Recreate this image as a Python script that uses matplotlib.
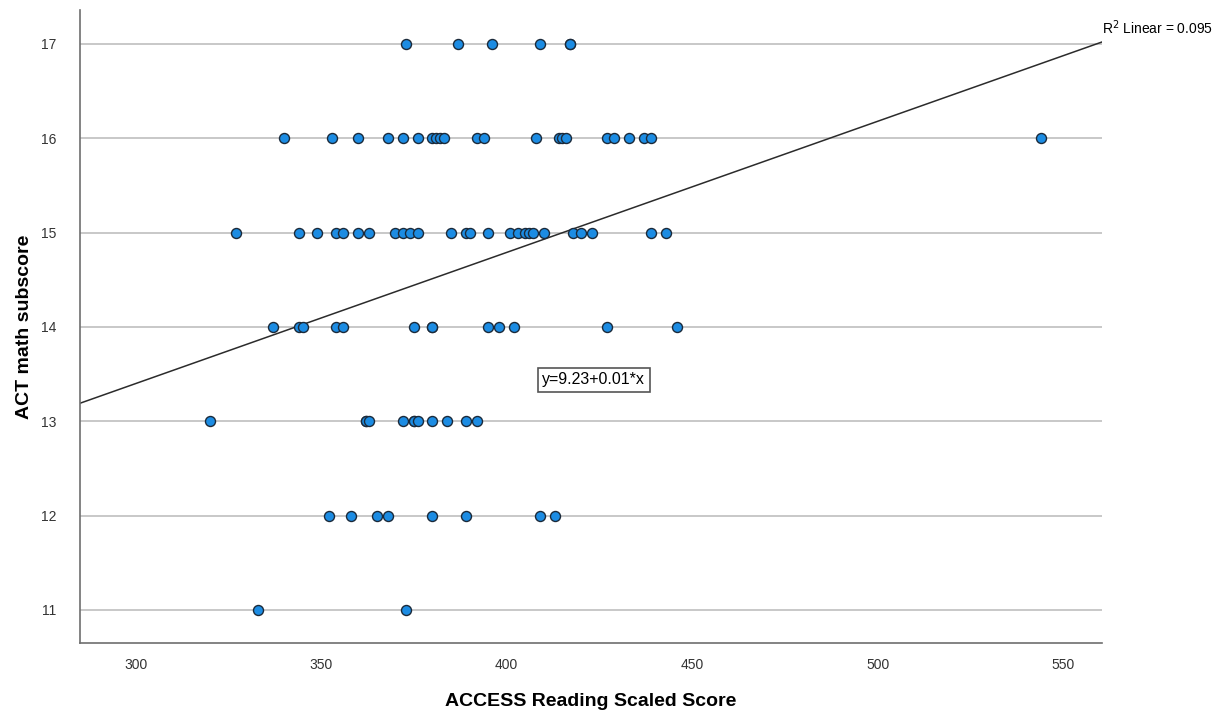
import matplotlib
matplotlib.use("Agg")
import matplotlib.pyplot as plt
import numpy as np

# Valeurs, une liste par score ACT
act_17 = [373, 387, 396, 409, 417, 417]
act_16 = [340, 353, 360, 368, 372, 376, 380, 381, 382, 383, 392, 394, 408,
          414, 415, 416, 427, 429, 433, 437, 439, 544]
act_15 = [327, 344, 349, 354, 356, 360, 363, 370, 372, 374, 376, 385, 389,
          390, 395, 401, 403, 405, 406, 407, 410, 418, 420, 423, 439, 443]
act_14 = [337, 344, 345, 354, 356, 375, 380, 380, 395, 398, 402, 427, 446]
act_13 = [320, 362, 362, 363, 372, 375, 375, 376, 380, 384, 389, 392]
act_12 = [352, 358, 365, 368, 380, 389, 409, 413]
act_11 = [333, 373]

fit_intercept = 9.23
fit_slope = 0.0139
r2_text = "0.095"

x_ticks = [300, 350, 400, 450, 500, 550]
y_ticks = [11, 12, 13, 14, 15, 16, 17]

rows = {17: act_17, 16: act_16, 15: act_15, 14: act_14,
        13: act_13, 12: act_12, 11: act_11}
x = np.concatenate([np.array(v, float) for v in rows.values()])
y = np.concatenate([np.full(len(v), k, float) for k, v in rows.items()])

plt.rcParams['font.family'] = ['Liberation Sans', 'DejaVu Sans']

fig = plt.figure(figsize=(12.28, 7.14), dpi=100)
ax = fig.add_axes([80 / 1228, 1 - 643 / 714, 1022 / 1228, 633 / 714])

xlim = (285, 560.5)
ylim = (10.65, 17.36)
ax.set_xlim(xlim)
ax.set_ylim(ylim)

# grille horizontale seulement
for t in y_ticks:
    ax.axhline(t, color='#c8c8c8', lw=1.4, zorder=0)

# droite de regression
xs = np.array(xlim)
ax.plot(xs, fit_intercept + fit_slope * xs, color='#2b2b2b', lw=1.1, zorder=2)

ax.scatter(x, y, s=52, facecolor='#1c8ce3', edgecolor='#1b2a3a',
           linewidth=1.0, zorder=3, clip_on=False)

ax.set_xticks(x_ticks)
ax.set_yticks(y_ticks)
ax.tick_params(length=0, labelsize=10, labelcolor='#333333')
ax.tick_params(axis='x', pad=11)
ax.tick_params(axis='y', pad=17)

for side in ['top', 'right']:
    ax.spines[side].set_visible(False)
for side in ['left', 'bottom']:
    ax.spines[side].set_color('#6e6e6e')
    ax.spines[side].set_linewidth(1.2)

ax.set_xlabel('ACCESS Reading Scaled Score', fontsize=14, fontweight='bold',
              labelpad=15)
ax.set_ylabel('ACT math subscore', fontsize=14, fontweight='bold',
              labelpad=6)

ax.text(423.5, 13.44, 'y=9.23+0.01*x', fontsize=11.5, ha='center', va='center',
        bbox=dict(boxstyle='square,pad=0.3', facecolor='white',
                  edgecolor='#555555', linewidth=1.2), zorder=4)

ax.text(1.0, 1.0 - (28 - 10) / 633, r'R$^2$ Linear = ' + r2_text, transform=ax.transAxes,
        fontsize=10, ha='left', va='center', clip_on=False)

fig.savefig('out.png', dpi=100)
